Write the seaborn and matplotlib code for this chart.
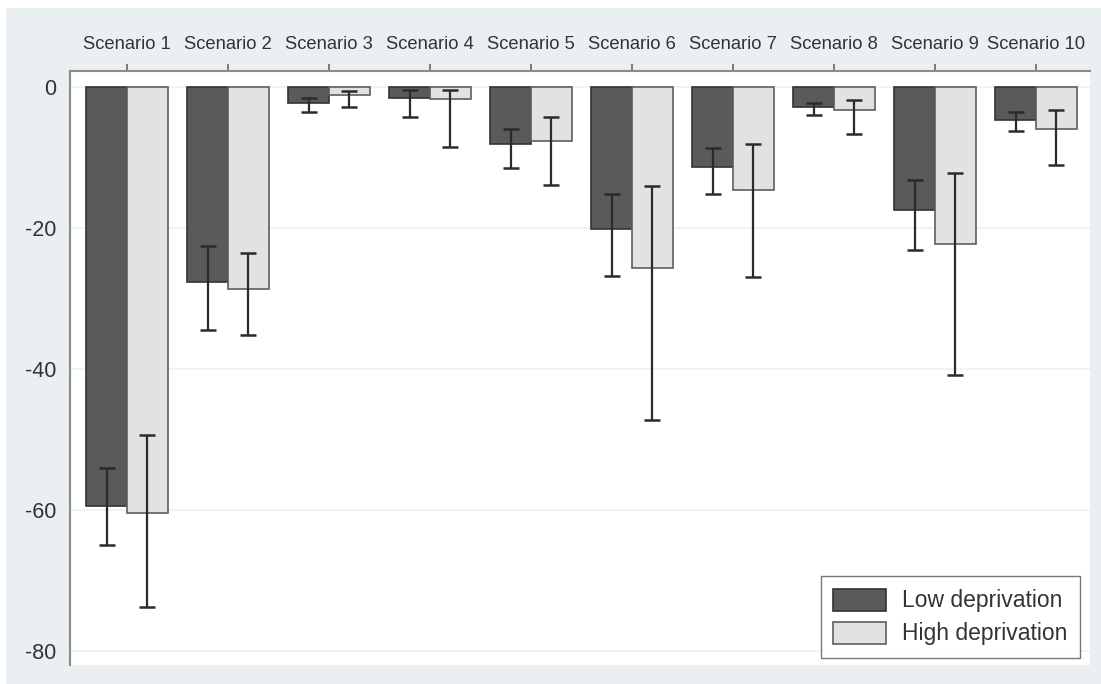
import matplotlib
matplotlib.use("Agg")
import matplotlib.pyplot as plt
from matplotlib.patches import Rectangle
import numpy as np
import pandas as pd
import seaborn as sns

# Category labels and group names
scenarios = [f"Scenario {i}" for i in range(1, 11)]
groups = ["Low deprivation", "High deprivation"]

# Mean change per scenario
low_mean = [-59.4, -27.7, -2.3, -1.5, -8.1, -20.2, -11.4, -2.9, -17.4, -4.7]
high_mean = [-60.4, -28.7, -1.1, -1.7, -7.6, -25.7, -14.6, -3.3, -22.3, -6.0]

# Confidence interval bounds (upper = closer to zero, lower = more negative)
low_upper = [-54.1, -22.6, -1.5, -0.4, -6.0, -15.2, -8.7, -2.3, -13.2, -3.6]
low_lower = [-65.0, -34.5, -3.6, -4.3, -11.5, -26.8, -15.2, -4.0, -23.1, -6.3]
high_upper = [-49.4, -23.5, -0.6, -0.4, -4.2, -14.1, -8.1, -1.8, -12.2, -3.2]
high_lower = [-73.7, -35.2, -2.8, -8.5, -13.9, -47.2, -26.9, -6.7, -40.9, -11.1]

yticks = [0, -20, -40, -60, -80]

df = pd.DataFrame({
    "scenario": scenarios * 2,
    "group": [groups[0]] * 10 + [groups[1]] * 10,
    "value": low_mean + high_mean,
})

sns.set_style("white")
plt.rcParams["font.family"] = ["Liberation Sans", "DejaVu Sans"]

W, H = 1101, 684
fig = plt.figure(figsize=(W / 100, H / 100), dpi=100)
fig.patch.set_facecolor("#eaeff2")
# thin white margin along the top and left edges
fig.patches.append(Rectangle((0, 1 - 8 / H), 1, 8 / H, transform=fig.transFigure,
                             facecolor="white", edgecolor="none", zorder=0))
fig.patches.append(Rectangle((0, 0), 6 / W, 1, transform=fig.transFigure,
                             facecolor="white", edgecolor="none", zorder=0))

ax = fig.add_axes([70 / W, 1 - 665 / H, (1090 - 70) / W, (665 - 71) / H])
ax.set_facecolor("white")

palette = {groups[0]: "#5a5a5a", groups[1]: "#e2e2e2"}
sns.barplot(data=df, x="scenario", y="value", hue="group", order=scenarios,
            hue_order=groups, palette=palette, errorbar=None, width=0.81,
            gap=0, saturation=1, ax=ax, zorder=2)

edge = {0: "#333333", 1: "#5e5e5e"}
means = [low_mean, high_mean]
uppers = [low_upper, high_upper]
lowers = [low_lower, high_lower]
bar_containers = list(ax.containers)
for k, cont in enumerate(bar_containers):
    xs = []
    for bar in cont.patches:
        bar.set_edgecolor(edge[k])
        bar.set_linewidth(1.2)
        xs.append(bar.get_x() + bar.get_width() / 2)
    m = np.array(means[k])
    yerr = np.vstack([m - np.array(lowers[k]), np.array(uppers[k]) - m])
    ax.errorbar(xs, m, yerr=yerr, fmt="none", ecolor="#2b2b2b",
                elinewidth=1.6, capsize=5.5, capthick=1.8, zorder=3)

ax.set_xlim(-0.564, 9.535)
ax.set_ylim(-81.98, 2.27)
ax.set_yticks(yticks)
ax.set_yticklabels([str(v) for v in yticks])
ax.yaxis.grid(True, color="#eef1f1", linewidth=1.2, zorder=0)
ax.set_axisbelow(True)

ax.xaxis.tick_top()
ax.xaxis.set_label_position("top")
ax.set_xlabel("")
ax.set_ylabel("")
ax.tick_params(axis="x", direction="out", length=5, width=1.2, color="#666666",
               labelsize=13.2, labelcolor="#333333", pad=8)
ax.tick_params(axis="y", direction="out", length=6, width=1.2, color="#666666",
               labelsize=15.5, labelcolor="#333333", pad=4)

for side in ["bottom", "right"]:
    ax.spines[side].set_visible(False)
for side in ["top", "left"]:
    ax.spines[side].set_visible(True)
    ax.spines[side].set_color("#8a8a8a")
    ax.spines[side].set_linewidth(1.5)

leg = ax.legend(loc="lower right", bbox_to_anchor=(1080 / W, 1 - 658 / H),
                bbox_transform=fig.transFigure, borderaxespad=0,
                fontsize=16.5, frameon=True, fancybox=False, title=None,
                handlelength=2.3, handleheight=1.1, handletextpad=0.7,
                labelspacing=0.4, borderpad=0.55, labelcolor="#333333")
leg.get_frame().set_edgecolor("#555555")
leg.get_frame().set_linewidth(1.0)
leg.get_frame().set_facecolor("white")
for k, h in enumerate(leg.legend_handles):
    h.set_edgecolor(edge[k])
    h.set_linewidth(1.2)

fig.savefig("out.png", dpi=100, facecolor=fig.get_facecolor())
